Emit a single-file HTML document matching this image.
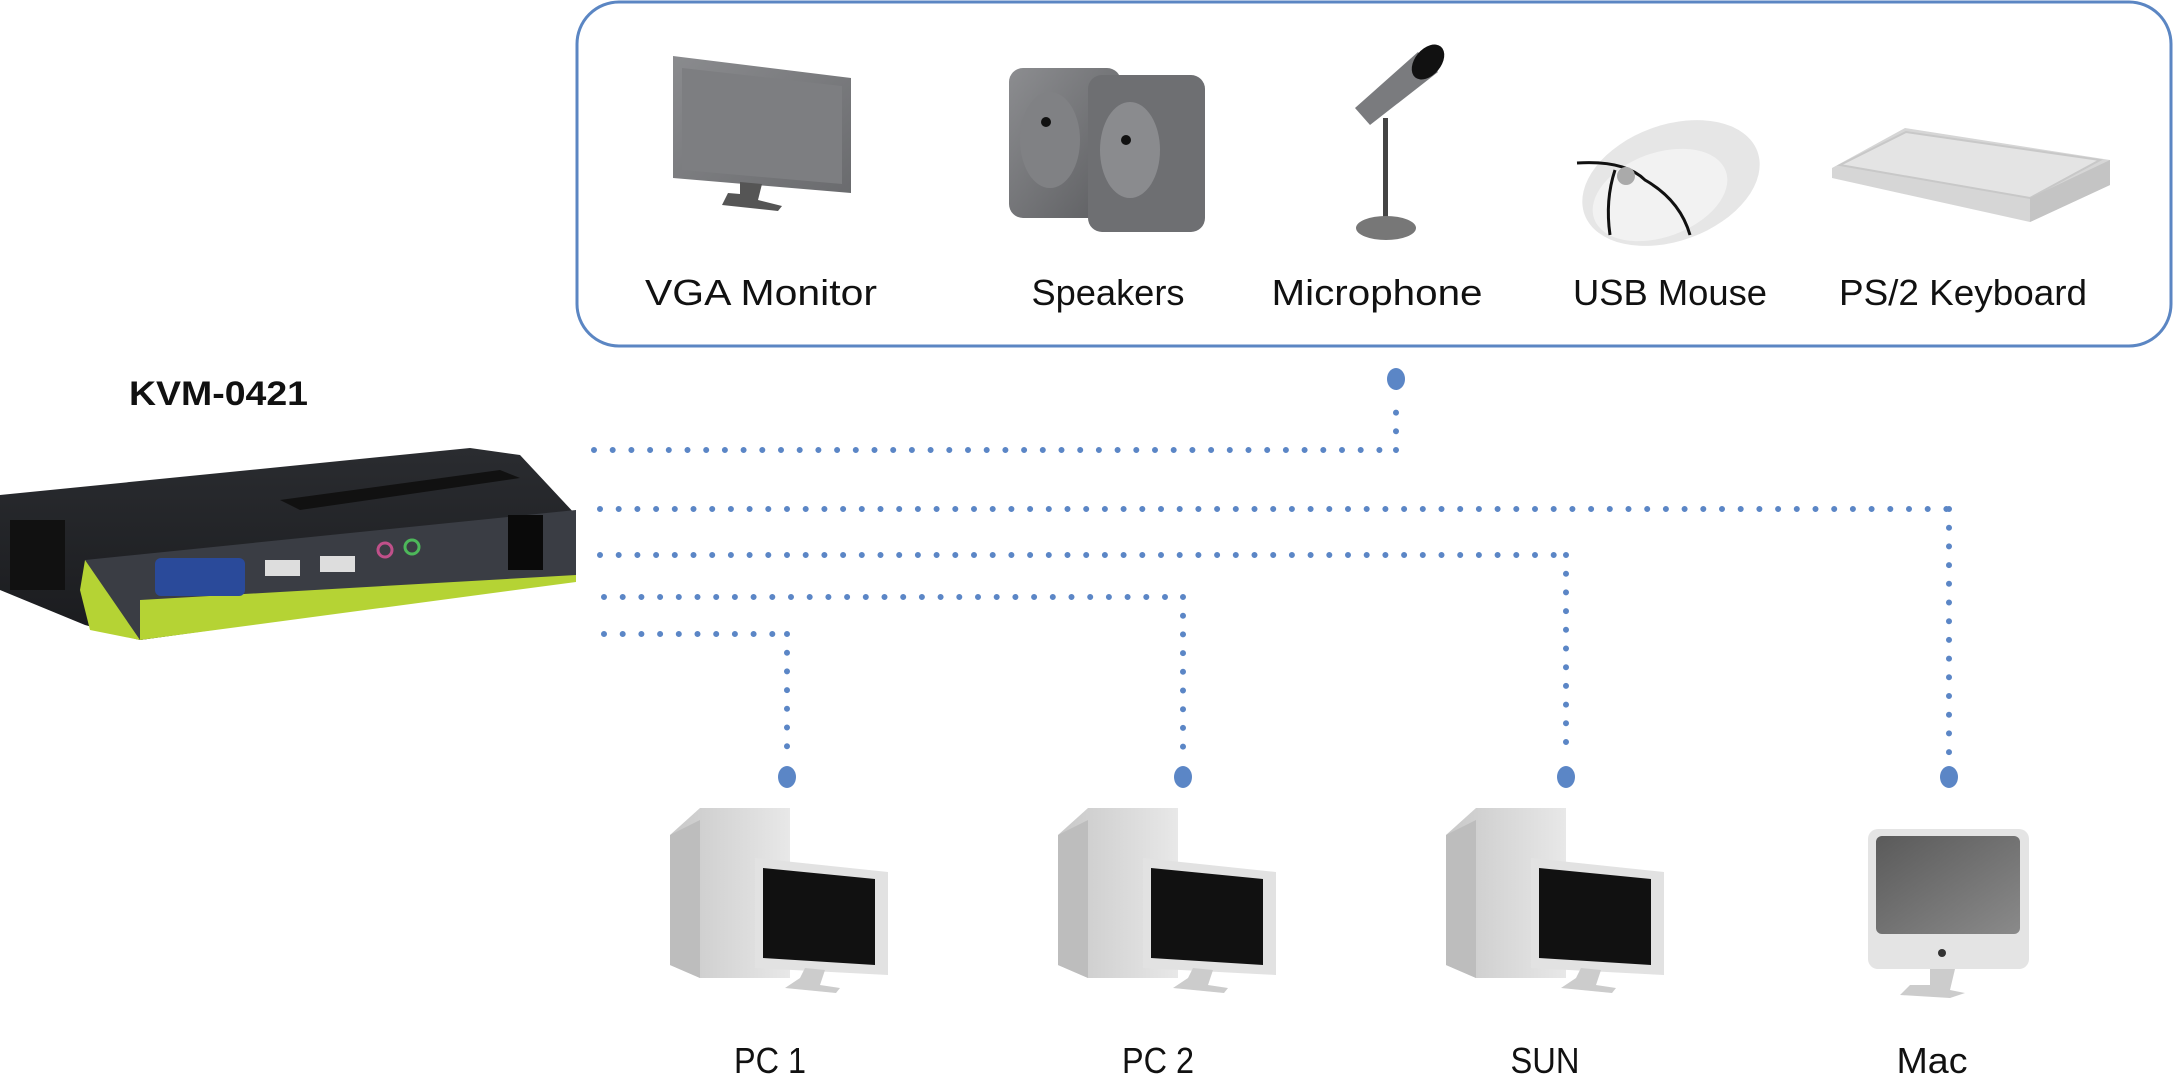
<!DOCTYPE html>
<html><head><meta charset="utf-8"><style>
html,body{margin:0;padding:0;background:#fff;}
svg{display:block;}
text{font-family:"Liberation Sans",sans-serif;fill:#111;}
</style></head><body>
<svg width="2176" height="1080" viewBox="0 0 2176 1080" xmlns="http://www.w3.org/2000/svg">
<defs>
<linearGradient id="mon" x1="0" y1="0" x2="1" y2="1"><stop offset="0" stop-color="#8a8b8e"/><stop offset="1" stop-color="#6a6b6e"/></linearGradient>
<linearGradient id="spk" x1="0" y1="0" x2="1" y2="1"><stop offset="0" stop-color="#8c8d90"/><stop offset="1" stop-color="#5c5d60"/></linearGradient>
<linearGradient id="pc" x1="0" y1="0" x2="1" y2="0"><stop offset="0" stop-color="#c8c8c8"/><stop offset="1" stop-color="#e8e8e8"/></linearGradient>
<linearGradient id="macs" x1="0" y1="0" x2="1" y2="1"><stop offset="0" stop-color="#5a5a5a"/><stop offset="1" stop-color="#8a8a8a"/></linearGradient>
<linearGradient id="kvm" x1="0" y1="0" x2="0" y2="1"><stop offset="0" stop-color="#2a2c30"/><stop offset="1" stop-color="#1a1b1e"/></linearGradient>
</defs>

<!-- top box -->
<rect x="577" y="2" width="1594" height="344" rx="42" fill="#fff" stroke="#5b86c3" stroke-width="3"/>

<!-- VGA monitor -->
<polygon points="673,56 851,78 851,193 673,178" fill="url(#mon)"/>
<polygon points="682,68 842,86 842,184 682,170" fill="#7d7e81"/>
<polygon points="740,182 762,184 758,200 782,206 778,211 722,205 728,193 740,194" fill="#555"/>
<!-- speakers -->
<rect x="1009" y="68" width="112" height="150" rx="14" fill="url(#spk)"/>
<rect x="1088" y="75" width="117" height="157" rx="14" fill="#6e6f72"/>
<ellipse cx="1050" cy="140" rx="30" ry="48" fill="#808184"/>
<ellipse cx="1130" cy="150" rx="30" ry="48" fill="#8a8b8e"/>
<circle cx="1046" cy="122" r="5" fill="#111"/>
<circle cx="1126" cy="140" r="5" fill="#111"/>
<!-- mic -->
<polygon points="1355,108 1418,52 1438,72 1370,125" fill="#7a7b7e"/>
<ellipse cx="1428" cy="62" rx="13" ry="20" transform="rotate(40 1428 62)" fill="#111"/>
<rect x="1383" y="118" width="5" height="100" fill="#444"/>
<ellipse cx="1386" cy="228" rx="30" ry="12" fill="#777"/>
<!-- mouse -->
<ellipse cx="1671" cy="183" rx="92" ry="58" transform="rotate(-20 1671 183)" fill="#e6e6e6"/>
<ellipse cx="1660" cy="195" rx="70" ry="42" transform="rotate(-20 1660 195)" fill="#f2f2f2"/>
<path d="M1577,163 Q1625,160 1645,180 Q1680,200 1690,235" fill="none" stroke="#111" stroke-width="3"/>
<path d="M1615,170 Q1605,200 1610,235" fill="none" stroke="#111" stroke-width="3"/>
<circle cx="1626" cy="176" r="9" fill="#aaa"/>
<!-- keyboard -->
<polygon points="1832,168 1905,128 2110,160 2110,185 2030,222 1832,178" fill="#d6d6d6"/>
<polygon points="1840,165 1906,132 2100,160 2030,198" fill="#e4e4e4" stroke="#c8c8c8" stroke-width="2"/>
<polygon points="2030,198 2110,160 2110,185 2030,222" fill="#c4c4c4"/>

<!-- labels -->
<text x="761" y="305" font-size="36" text-anchor="middle" textLength="232" lengthAdjust="spacingAndGlyphs">VGA Monitor</text>
<text x="1108" y="305" font-size="36" text-anchor="middle" textLength="153" lengthAdjust="spacingAndGlyphs">Speakers</text>
<text x="1377" y="305" font-size="36" text-anchor="middle" textLength="211" lengthAdjust="spacingAndGlyphs">Microphone</text>
<text x="1670" y="305" font-size="36" text-anchor="middle" textLength="194" lengthAdjust="spacingAndGlyphs">USB Mouse</text>
<text x="1963" y="305" font-size="36" text-anchor="middle" textLength="248" lengthAdjust="spacingAndGlyphs">PS/2 Keyboard</text>

<text x="129" y="405" font-size="34" font-weight="bold" textLength="179" lengthAdjust="spacingAndGlyphs">KVM-0421</text>

<!-- KVM device -->
<polygon points="0,495 470,448 520,455 576,515 576,580 140,640 85,625 0,590" fill="url(#kvm)"/>
<polygon points="85,560 576,510 576,580 140,640 90,628" fill="#3a3d44"/>
<polygon points="85,560 140,640 90,630 80,590" fill="#b5d334"/>
<polygon points="140,600 576,575 576,582 140,640" fill="#b5d334"/>
<polygon points="280,500 500,470 520,478 300,510" fill="#111"/>
<rect x="155" y="558" width="90" height="38" rx="6" fill="#2a4a9a"/>
<rect x="265" y="560" width="35" height="16" fill="#ddd"/>
<rect x="320" y="556" width="35" height="16" fill="#ddd"/>
<circle cx="385" cy="550" r="7" fill="none" stroke="#c0508a" stroke-width="3"/>
<circle cx="412" cy="547" r="7" fill="none" stroke="#4db85a" stroke-width="3"/>
<rect x="508" y="515" width="35" height="55" fill="#0a0a0a"/>
<rect x="10" y="520" width="55" height="70" fill="#111"/>

<!-- dotted connectors -->
<g stroke="#5b86c6" stroke-width="6" stroke-linecap="round" stroke-dasharray="0 18.7" fill="none">
<line x1="594" y1="450" x2="1396" y2="450"/>
<line x1="1396" y1="450" x2="1396" y2="395"/>
<line x1="600" y1="509" x2="1949" y2="509"/>
<line x1="1949" y1="509" x2="1949" y2="760"/>
<line x1="600" y1="555" x2="1566" y2="555"/>
<line x1="1566" y1="555" x2="1566" y2="760"/>
<line x1="604" y1="597" x2="1183" y2="597"/>
<line x1="1183" y1="597" x2="1183" y2="760"/>
<line x1="604" y1="634" x2="787" y2="634"/>
<line x1="787" y1="634" x2="787" y2="760"/>
</g>
<g fill="#5b86c6">
<ellipse cx="1396" cy="379" rx="9" ry="11"/>
<ellipse cx="787" cy="777" rx="9" ry="11"/>
<ellipse cx="1183" cy="777" rx="9" ry="11"/>
<ellipse cx="1566" cy="777" rx="9" ry="11"/>
<ellipse cx="1949" cy="777" rx="9" ry="11"/>
</g>

<!-- PCs -->
<g id="pc1">
<polygon points="670,835 700,808 790,808 790,978 700,978 670,965" fill="url(#pc)"/>
<polygon points="670,835 700,820 700,978 670,965" fill="#bdbdbd"/>
<polygon points="755,858 888,872 888,975 755,968" fill="#e2e2e2"/>
<polygon points="763,868 875,879 875,965 763,958" fill="#111"/>
<polygon points="805,968 825,970 820,985 840,988 836,993 785,988 800,978" fill="#ccc"/>
</g>
<use href="#pc1" x="388"/>
<use href="#pc1" x="776"/>
<!-- Mac -->
<rect x="1868" y="829" width="161" height="140" rx="10" fill="#e4e4e4"/>
<rect x="1876" y="836" width="144" height="98" rx="6" fill="url(#macs)"/>
<circle cx="1942" cy="953" r="4" fill="#333"/>
<polygon points="1930,969 1955,969 1950,990 1965,993 1950,998 1900,995 1910,985 1930,985" fill="#ccc"/>

<text x="770" y="1073" font-size="36" text-anchor="middle" textLength="72" lengthAdjust="spacingAndGlyphs">PC 1</text>
<text x="1158" y="1073" font-size="36" text-anchor="middle" textLength="72" lengthAdjust="spacingAndGlyphs">PC 2</text>
<text x="1545" y="1073" font-size="36" text-anchor="middle" textLength="69" lengthAdjust="spacingAndGlyphs">SUN</text>
<text x="1932" y="1073" font-size="36" text-anchor="middle" textLength="71" lengthAdjust="spacingAndGlyphs">Mac</text>
</svg>
</body></html>
